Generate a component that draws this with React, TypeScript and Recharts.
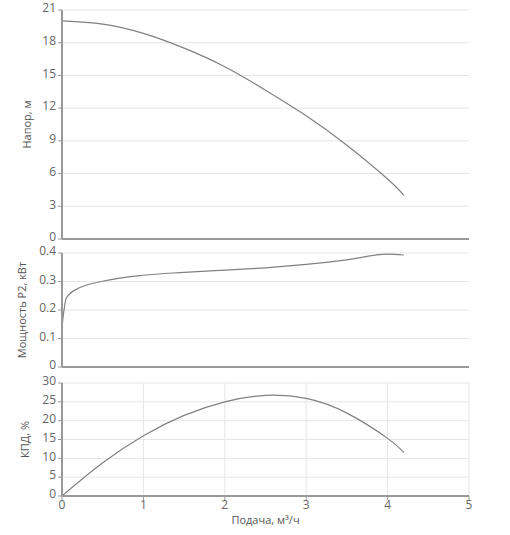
import React from 'react';
import { LineChart, Line, XAxis, YAxis, CartesianGrid } from 'recharts';

const flowTicks = [0, 1, 2, 3, 4, 5];

const headFlow = [0, 0.5, 1, 1.5, 2, 2.5, 3, 3.5, 4, 4.2];
const headValues = [20, 19.7, 18.85, 17.5, 15.8, 13.65, 11.3, 8.6, 5.5, 4.0];
const headTicks = [0, 3, 6, 9, 12, 15, 18, 21];

const powerFlow = [0, 0.02, 0.05, 0.1, 0.2, 0.5, 1, 1.5, 2, 2.5, 3, 3.5, 4, 4.2];
const powerValues = [0.14, 0.19, 0.24, 0.258, 0.276, 0.301, 0.322, 0.332, 0.34, 0.348, 0.36, 0.376, 0.396, 0.393];
const powerTicks = [0, 0.1, 0.2, 0.3, 0.4];

const effFlow = [0, 0.5, 1, 1.5, 2, 2.5, 3, 3.5, 4, 4.2];
const effValues = [0, 8.8, 16, 21.4, 25, 26.7, 25.9, 22, 15.3, 11.6];
const effTicks = [0, 5, 10, 15, 20, 25, 30];

const headData = headFlow.map((q, i) => ({ q, v: headValues[i] }));
const powerData = powerFlow.map((q, i) => ({ q, v: powerValues[i] }));
const effData = effFlow.map((q, i) => ({ q, v: effValues[i] }));

const FONT = '"Open Sans", sans-serif';
const tickStyle = { fill: '#666', fontSize: 12, fontFamily: FONT };
const yTickStyle = { ...tickStyle, dy: -2 };
const labelStyle = { fill: '#555', fontSize: 11, fontFamily: FONT };
const axisLine = { stroke: '#999', strokeWidth: 2 };
const tickLine = { stroke: '#999' };
const GRID = '#e6e6e6';
const LINE = '#808080';

type PanelProps = {
  data: { q: number; v: number }[];
  y: number;
  height: number;
  top: number;
  yTicks: number[];
  yLabel: string;
  labelDx: number;
  showX: boolean;
  curve: 'monotone' | 'natural';
};

function Panel({ data, y, height, top, yTicks, yLabel, labelDx, showX, curve }: PanelProps) {
  return (
    <div style={{ position: 'absolute', left: 0, top: y, width: 510, height }}>
      <LineChart
        width={510}
        height={height}
        data={data}
        margin={{ top, right: 41, bottom: showX ? 9 : 2, left: 0 }}
      >
        <CartesianGrid stroke={GRID} strokeWidth={1} verticalValues={flowTicks} horizontalValues={yTicks} />
        <XAxis
          dataKey="q"
          type="number"
          domain={[0, 5]}
          ticks={flowTicks}
          allowDataOverflow
          height={showX ? 30 : 9}
          axisLine={axisLine}
          tickLine={tickLine}
          tickSize={4}
          tickMargin={0}
          tick={showX ? tickStyle : false}
          label={
            showX
              ? { value: 'Подача, м³/ч', position: 'insideBottom', offset: 0, dy: -2, style: labelStyle }
              : undefined
          }
        />
        <YAxis
          type="number"
          domain={[yTicks[0], yTicks[yTicks.length - 1]]}
          ticks={yTicks}
          width={62}
          axisLine={axisLine}
          tickLine={tickLine}
          tickSize={4}
          tickMargin={2}
          tick={yTickStyle}
          interval={0}
          label={{ value: yLabel, angle: -90, position: 'center', dx: labelDx, style: labelStyle }}
        />
        <Line
          type={curve}
          dataKey="v"
          stroke={LINE}
          strokeWidth={1.2}
          dot={false}
          activeDot={false}
          isAnimationActive={false}
        />
      </LineChart>
    </div>
  );
}

export default function App() {
  return (
    <div style={{ position: 'absolute', left: 0, top: 0, width: 510, height: 535, background: '#fff' }}>
      <Panel data={headData} y={0} height={250} top={10} yTicks={headTicks} yLabel="Напор, м" labelDx={-4} showX={false} curve="natural" />
      <Panel data={powerData} y={240} height={138} top={13} yTicks={powerTicks} yLabel="Мощность Р2, кВт" labelDx={-9} showX={false} curve="monotone" />
      <Panel data={effData} y={370} height={165} top={13} yTicks={effTicks} yLabel="КПД, %" labelDx={-6} showX={true} curve="natural" />
    </div>
  );
}
